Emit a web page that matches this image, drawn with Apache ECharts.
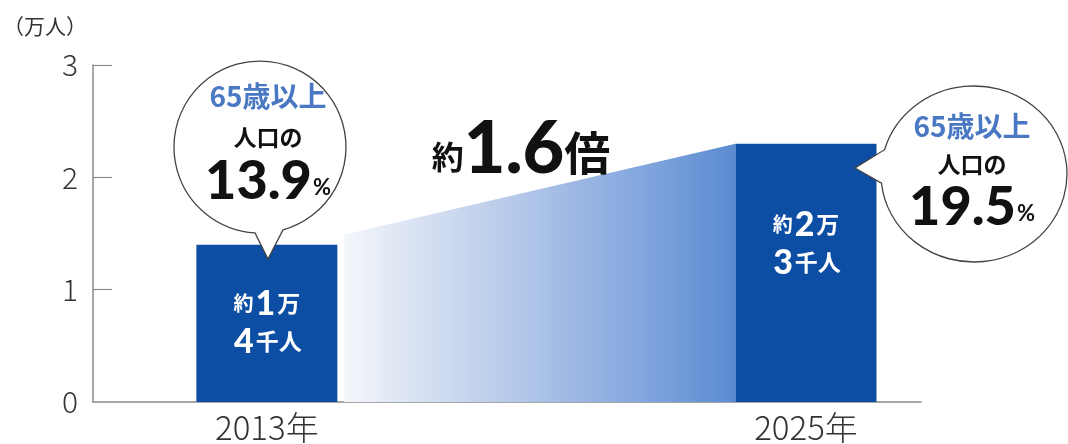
<!DOCTYPE html>
<html><head><meta charset="utf-8">
<script src="https://cdn.jsdelivr.net/npm/echarts@6/dist/echarts.min.js"></script>
<style>html,body{margin:0;padding:0;background:#fff}#c{width:1068px;height:444px}</style>
</head><body><div id="c"></div>
<script>
// ---- data ----
const categories = ['2013年', '2025年'];
const years = [2013, 2025];
const values = [1.4, 2.3];            // 万人
const barLine1 = [['約', '1', '万'], ['約', '2', '万']];
const barLine2 = [['4', '千人'], ['3', '千人']];
const shareHead = '65歳以上';
const shareMid = '人口の';
const shares = ['13.9', '19.5'];
const ratioText = ['約', '1.6', '倍'];
const trendFrom = [2013, 1.49];
const trendTo = [2025, 2.3];
const yTicks = [0, 1, 2, 3];
const unitLabel = '（万人）';

const JP = '"Noto Sans CJK JP", "Noto Sans", sans-serif';
const NUM = 'Lato, "Liberation Sans", sans-serif';
const BAR_W = 141;

const chart = echarts.init(document.getElementById('c'));

const bubblePaths = [
  'M268 259 L283 229.9 A86 86 0 1 0 255 232.9 Z',
  'M855 168 L881.5 183.2 A93 88 0 1 0 884.6 149.7 Z'
];

function bubbleTexts(cx, y1, y2, y3, share) {
  return [
    { type: 'text', z: 101, x: cx, y: y1, style: { text: shareHead, fill: '#4a78c2', fontSize: 28, fontWeight: 'bold', fontFamily: JP, align: 'center', verticalAlign: 'middle' } },
    { type: 'text', z: 101, x: cx, y: y2, style: { text: shareMid, fill: '#111', fontSize: 23, fontWeight: 'bold', fontFamily: JP, align: 'center', verticalAlign: 'middle' } },
    { type: 'text', z: 101, x: cx, y: y3, style: { text: '{n|' + share + '}{p|%}', align: 'center', verticalAlign: 'middle',
      rich: { n: { fontSize: 54, fontWeight: 900, fontFamily: NUM, fill: '#111' },
              p: { fontSize: 22, fontWeight: 'bold', fontFamily: NUM, fill: '#111', padding: [12, 0, 0, 1] } } } }
  ];
}

const option = {
  animation: false,
  grid: { left: 93, right: 147, top: 65, bottom: 39 },
  xAxis: {
    type: 'value', min: 2009.13, max: 2027.56,
    splitLine: { show: false },
    axisTick: { show: false },
    axisLine: { show: true, lineStyle: { color: '#8a8a8a', width: 1.5 } },
    axisLabel: { customValues: years, formatter: v => categories[years.indexOf(v)] || '',
      color: '#333', fontSize: 33, fontFamily: JP, fontWeight: 300, margin: 9 }
  },
  yAxis: {
    type: 'value', min: 0, max: 3, interval: 1,
    name: unitLabel, nameLocation: 'end', nameGap: 28,
    nameTextStyle: { color: '#333', fontSize: 21, fontFamily: JP, align: 'right', padding: [0, 6, 0, 0] },
    splitLine: { show: false },
    axisLine: { show: true, lineStyle: { color: '#8a8a8a', width: 1.5 } },
    axisTick: { show: true, inside: true, length: 19, lineStyle: { color: '#8a8a8a', width: 1.2 },
      customValues: yTicks.filter(v => v > 0) },
    axisLabel: { color: '#333', fontSize: 30, fontFamily: JP, fontWeight: 300, margin: 15,
      customValues: yTicks }
  },
  series: [
    {
      type: 'custom', z: 1,
      data: [[trendFrom[0], trendFrom[1], trendTo[0], trendTo[1]]],
      encode: { x: [0, 2], y: [1, 3] },
      renderItem: function (params, api) {
        const p0 = api.coord([api.value(0), api.value(1)]);
        const p1 = api.coord([api.value(2), api.value(3)]);
        const b = api.coord([api.value(0), 0]);
        const lx = p0[0] + BAR_W / 2 + 7, rx = p1[0] - BAR_W / 2;
        return {
          type: 'polygon',
          shape: { points: [[lx, b[1]], [lx, p0[1]], [rx, p1[1]], [rx, b[1]]] },
          style: { fill: { type: 'linear', x: 0, y: 0, x2: 1, y2: 0, colorStops: [
            { offset: 0, color: '#f4f6fb' },
            { offset: 0.12, color: '#e2e9f5' },
            { offset: 0.45, color: '#b3c7e9' },
            { offset: 0.8, color: '#7ca2dc' },
            { offset: 1, color: '#5a8bd0' }
          ] } }
        };
      }
    },
    {
      type: 'bar', z: 2,
      barWidth: BAR_W,
      itemStyle: { color: '#0c4ea3' },
      data: years.map((y, i) => ({
        value: [y, values[i]],
        label: { position: 'insideTop', distance: i === 0 ? 40 : 62 }
      })),
      label: {
        show: true,
        formatter: p => {
          const a = barLine1[p.dataIndex], b = barLine2[p.dataIndex];
          return '{s|' + a[0] + '}{b|' + a[1] + '}{m|' + a[2] + '}\n{b|' + b[0] + '}{m|' + b[1] + '}';
        },
        lineHeight: 38,
        rich: {
          s: { color: '#fff', fontSize: 20, fontWeight: 'bold', fontFamily: JP, lineHeight: 38 },
          b: { color: '#fff', fontSize: 34, fontWeight: 900, fontFamily: NUM, lineHeight: 38, padding: [0, 2, 0, 2] },
          m: { color: '#fff', fontSize: 23, fontWeight: 'bold', fontFamily: JP, lineHeight: 38 }
        }
      }
    },
    {
      type: 'custom', z: 10, silent: true,
      data: years.map((y, i) => [y, values[i]]),
      encode: { x: 0, y: 1 },
      renderItem: function (params, api) {
        return { type: 'path', shape: { pathData: bubblePaths[params.dataIndex] },
          style: { fill: '#fff', stroke: '#444', lineWidth: 1.3 } };
      }
    }
  ],
  graphic: [].concat(
    bubbleTexts(268, 96, 137, 182, shares[0]),
    bubbleTexts(972, 126, 164, 208, shares[1]),
    [{ type: 'text', z: 101, x: 521, y: 150, style: {
      text: '{a|' + ratioText[0] + '}{b|' + ratioText[1] + '}{c|' + ratioText[2] + '}',
      align: 'center', verticalAlign: 'middle',
      rich: {
        a: { fontSize: 32, fontWeight: 'bold', fontFamily: JP, fill: '#111', padding: [14, 0, 0, 0] },
        b: { fontSize: 72, fontWeight: 900, fontFamily: NUM, fill: '#111' },
        c: { fontSize: 46, fontWeight: 'bold', fontFamily: JP, fill: '#111', padding: [6, 0, 0, 0] }
      } } }]
  )
};
chart.setOption(option);
</script>
</body></html>
